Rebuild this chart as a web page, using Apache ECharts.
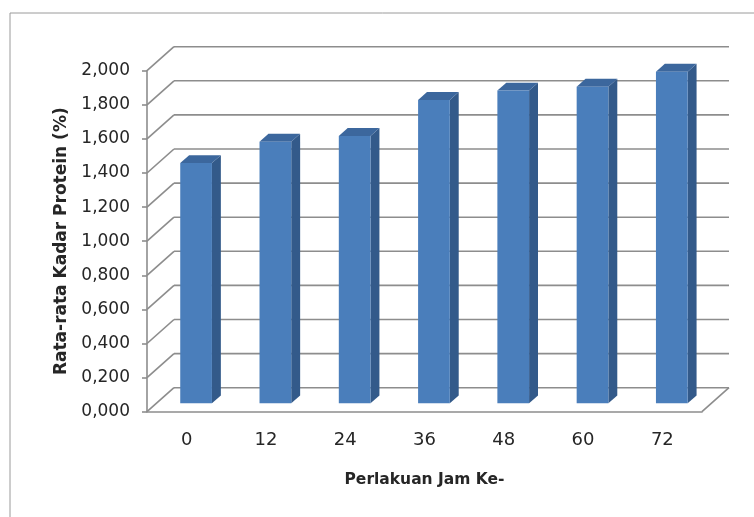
<!DOCTYPE html>
<html>
<head>
<meta charset="utf-8">
<script src="https://cdn.jsdelivr.net/npm/echarts@6/dist/echarts.min.js"></script>
<style>
  html, body { margin: 0; padding: 0; background: #ffffff; }
  #chart { width: 754px; height: 517px; }
</style>
</head>
<body>
<div id="chart"></div>
<script>
// Perlakuan (jam) dan rata-rata kadar protein (%)
const categories = ['0', '12', '24', '36', '48', '60', '72'];
const proteinValues = [1.409, 1.534, 1.568, 1.779, 1.834, 1.857, 1.945];
const yTicks = [0, 0.2, 0.4, 0.6, 0.8, 1.0, 1.2, 1.4, 1.6, 1.8, 2.0];

// 3D look: offset of the back wall relative to the front plane
const DEPTH_X = 27, DEPTH_Y = -24;
// bars sit in the middle of the depth
const BAR_FRONT = 0.35, BAR_BACK = 0.68;
const BAR_RATIO = 0.4;

const LINE = '#8d8d8d';
const FRONT = '#4a7ebb';
const SIDE = '#335a8a';
const TOP = '#3c679d';
const TEXT = '#262626';

function renderWalls(params, api) {
  const cs = params.coordSys;
  const y = api.coord([0, api.value(1)])[1];
  const xl = cs.x, xr = cs.x + cs.width;
  const style = { stroke: LINE, lineWidth: 1.6 };
  const children = [
    { type: 'line', shape: { x1: xl, y1: y, x2: xl + DEPTH_X, y2: y + DEPTH_Y }, style },
    { type: 'line', shape: { x1: xl + DEPTH_X, y1: y + DEPTH_Y, x2: xr + DEPTH_X, y2: y + DEPTH_Y }, style }
  ];
  if (params.dataIndex === 0) {
    // right edge of the floor
    children.push({ type: 'line', shape: { x1: xr, y1: y, x2: xr + DEPTH_X, y2: y + DEPTH_Y }, style });
  }
  return { type: 'group', children };
}

function renderBar(params, api) {
  const idx = api.value(0);
  const val = api.value(1);
  const base = api.coord([idx, 0]);
  const top = api.coord([idx, val]);
  const w = api.size([1, 0])[0] * BAR_RATIO;
  const xl = base[0] - w / 2, xr = base[0] + w / 2;
  const fx = BAR_FRONT * DEPTH_X, fy = BAR_FRONT * DEPTH_Y;
  const bx = BAR_BACK * DEPTH_X, by = BAR_BACK * DEPTH_Y;
  const y0 = base[1], y1 = top[1];
  return {
    type: 'group',
    children: [
      { type: 'polygon',
        shape: { points: [[xr + fx, y0 + fy], [xr + bx, y0 + by], [xr + bx, y1 + by], [xr + fx, y1 + fy]] },
        style: { fill: SIDE } },
      { type: 'polygon',
        shape: { points: [[xl + fx, y1 + fy], [xr + fx, y1 + fy], [xr + bx, y1 + by], [xl + bx, y1 + by]] },
        style: { fill: TOP } },
      { type: 'rect',
        shape: { x: xl + fx, y: y1 + fy, width: w, height: y0 - y1 },
        style: { fill: FRONT } }
    ]
  };
}

const chart = echarts.init(document.getElementById('chart'), null, { renderer: 'canvas' });

chart.setOption({
  animation: false,
  backgroundColor: '#ffffff',
  graphic: [{
    type: 'rect',
    shape: { x: 10, y: 13, width: 800, height: 600 },
    style: { fill: 'none', stroke: '#9a9a9a', lineWidth: 1 },
    z: 0
  }],
  grid: {
    left: 147, right: 52, top: 70.7, bottom: 105.3,
    containLabel: false,
    outerBoundsMode: 'none'
  },
  xAxis: {
    type: 'category',
    data: categories,
    name: 'Perlakuan Jam Ke-',
    nameLocation: 'middle',
    nameGap: 60,
    nameTextStyle: { fontFamily: 'DejaVu Sans', fontWeight: 'bold', fontSize: 15.5, color: TEXT },
    axisLine: { show: true, lineStyle: { color: LINE, width: 1.6 } },
    axisTick: { show: false },
    axisLabel: { margin: 20, fontFamily: 'DejaVu Sans', fontSize: 18, color: TEXT },
    splitLine: { show: false }
  },
  yAxis: {
    type: 'value',
    min: 0,
    max: 2,
    interval: 0.2,
    name: 'Rata-rata Kadar Protein (%)',
    nameLocation: 'middle',
    nameGap: 71,
    nameTextStyle: { fontFamily: 'DejaVu Sans', fontWeight: 'bold', fontSize: 17, color: TEXT },
    axisLine: { show: true, lineStyle: { color: LINE, width: 1.6 } },
    axisTick: { show: true, length: 5, lineStyle: { color: LINE, width: 1.6 } },
    axisLabel: {
      margin: 17,
      fontFamily: 'DejaVu Sans',
      fontSize: 17,
      color: TEXT,
      formatter: v => v.toFixed(3).replace('.', ',')
    },
    splitLine: { show: false }
  },
  series: [
    {
      type: 'custom',
      name: 'walls',
      renderItem: renderWalls,
      data: yTicks.map(v => [0, v]),
      clip: false,
      silent: true,
      z: 1
    },
    {
      type: 'custom',
      name: 'Kadar Protein',
      renderItem: renderBar,
      data: proteinValues.map((v, i) => [i, v]),
      clip: false,
      z: 3
    }
  ]
});
</script>
</body>
</html>
